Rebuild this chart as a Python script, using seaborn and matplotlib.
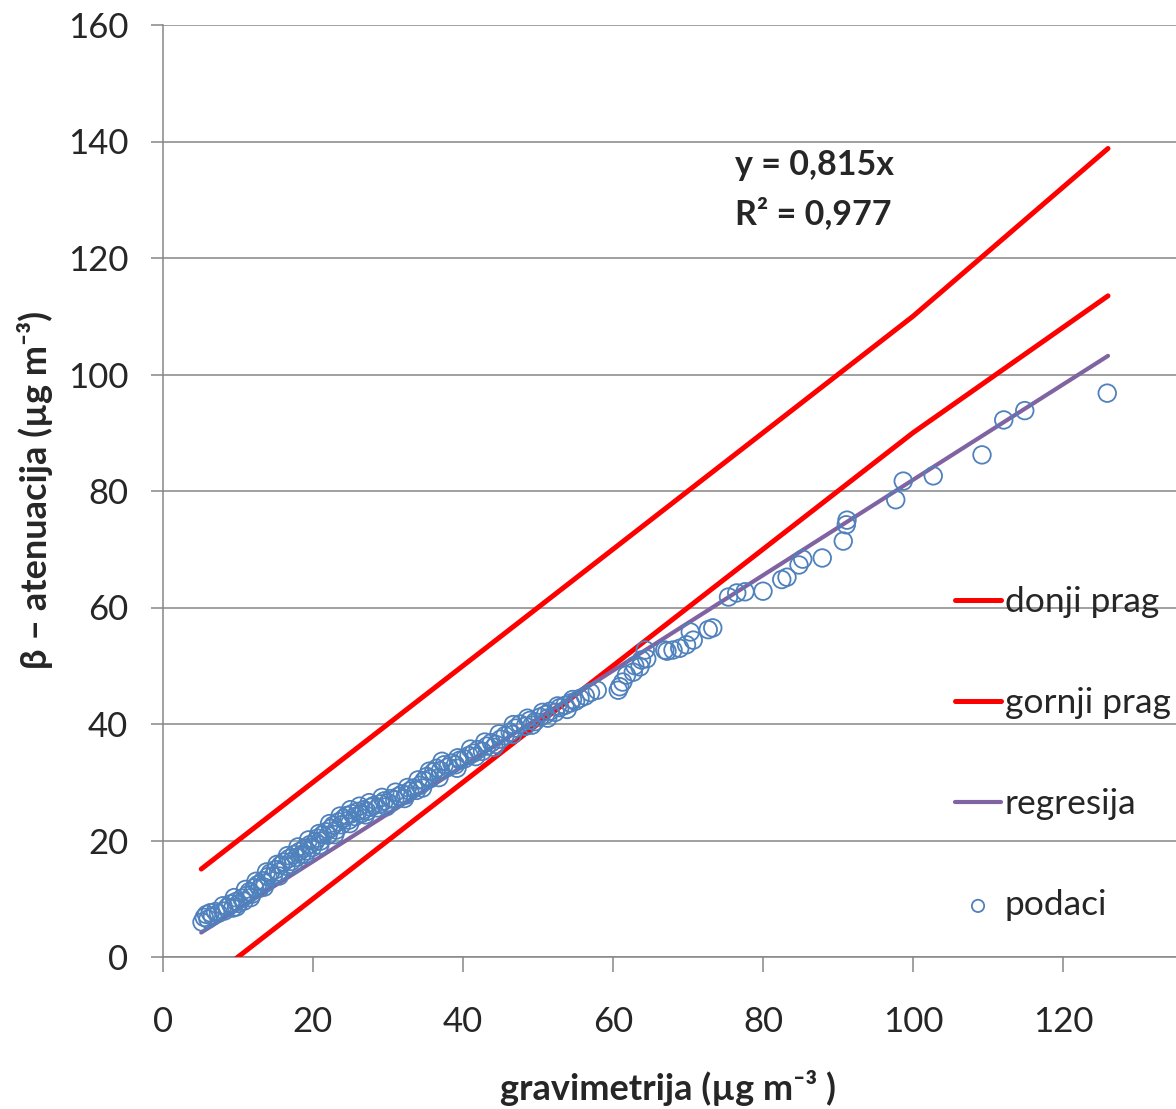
import numpy as np
import pandas as pd
import matplotlib
matplotlib.use("Agg")
import matplotlib.pyplot as plt
import seaborn as sns

# ---------------- data ----------------
grav_x = [5.2, 5.5, 5.8, 6.0, 6.3, 6.6, 7.0, 7.4, 8.2, 8.6, 9.0, 9.3, 9.7, 10.1, 10.5, 10.8,
          11.2, 11.5, 11.9, 12.2, 12.6, 12.9, 13.3, 13.6, 14.0, 14.3, 14.7, 15.0, 15.4, 15.7,
          16.1, 16.4, 16.8, 17.1, 17.5, 17.8, 18.2, 18.5, 18.9, 19.2, 19.6, 19.9, 20.3, 20.6,
          21.0, 21.3, 21.7, 22.0, 22.4, 22.7, 23.1, 23.4, 23.8, 24.1, 24.5, 24.8, 25.2, 25.6,
          26.0, 26.4, 26.8, 27.2, 27.7, 28.1, 28.6, 29.0, 29.5, 30.0, 30.4, 30.9, 31.4, 31.9,
          32.4, 32.9, 33.4, 33.8, 34.3, 34.8, 35.2, 35.6, 36.1, 36.5, 37.0, 37.5, 38.0, 38.5,
          39.0, 39.6, 40.2, 40.8, 41.4, 42.0, 42.6, 43.2, 43.8, 44.4, 45.0, 45.6, 46.3, 47.0,
          47.6, 48.3, 48.9, 49.6, 50.3, 51.0, 51.6, 52.3, 52.9, 53.6, 54.3, 55.0, 55.6, 56.3,
          57.0, 57.9,
          8.0, 9.5, 11.0, 12.4, 13.8, 15.2, 16.6, 18.0, 19.4, 20.8, 22.2, 23.6, 25.0, 26.2,
          27.5, 29.2, 31.0, 32.6, 34.0, 35.5, 37.2, 39.3, 41.0, 42.9, 44.8, 46.7, 48.6, 50.6,
          52.6, 54.6,
          9.8, 11.7, 13.5, 15.5, 17.3, 19.0, 20.9, 22.9, 24.9, 27.0, 29.8, 32.2, 34.6, 36.8,
          39.2, 41.7, 44.1, 46.6, 49.2, 51.3, 53.9,
          60.7, 60.9, 61.3, 61.8, 62.7, 62.9, 63.6, 63.8, 64.5, 64.3, 66.9, 67.2, 68.0, 68.9,
          69.8, 70.3, 70.7, 72.7, 73.3, 75.4, 76.5, 77.6, 80.0, 82.5, 83.2, 84.8, 85.3, 87.9,
          90.7, 91.1, 91.2, 97.7, 98.7, 102.7, 109.2, 112.1, 114.9, 125.9]
beta_y = [6.0, 6.8, 7.3, 6.5, 7.6, 7.0, 7.8, 7.5, 7.9, 8.6, 9.1, 8.4, 9.5, 9.2, 10.1, 9.6,
          10.6, 11.2, 10.8, 11.9, 12.4, 11.8, 13.1, 12.7, 13.8, 14.4, 13.9, 15.0, 14.6, 15.8,
          16.3, 15.6, 16.9, 16.4, 17.6, 17.1, 18.1, 17.6, 18.7, 18.2, 19.3, 18.8, 19.8, 20.4,
          19.9, 21.0, 21.5, 20.9, 22.1, 22.6, 21.8, 23.2, 22.7, 23.8, 24.3, 23.5, 24.6, 24.1,
          25.0, 24.6, 25.3, 25.0, 25.7, 26.0, 25.6, 26.3, 26.8, 26.5, 27.2, 27.0, 27.6, 28.0,
          27.8, 28.5, 29.0, 28.6, 29.5, 30.3, 31.0, 30.6, 31.8, 32.4, 32.0, 33.0, 32.6, 33.3,
          33.0, 33.8, 34.0, 34.6, 35.0, 35.6, 35.3, 36.2, 36.8, 36.5, 37.4, 38.0, 38.6, 39.3,
          40.0, 39.6, 40.6, 40.4, 41.2, 41.6, 42.2, 42.0, 42.8, 43.2, 43.6, 43.9, 44.4, 44.8,
          45.4, 45.8,
          8.8, 10.2, 11.6, 13.0, 14.6, 15.9, 17.4, 18.9, 20.1, 21.2, 22.9, 24.2, 25.3, 25.9,
          26.5, 27.4, 28.3, 29.1, 30.4, 31.9, 33.6, 34.2, 35.7, 36.9, 38.3, 39.9, 41.0, 42.0,
          43.1, 44.2,
          8.6, 10.2, 12.0, 13.9, 15.8, 17.6, 19.2, 21.0, 22.9, 24.4, 25.8, 27.2, 29.0, 30.8,
          32.4, 34.4, 36.0, 38.2, 39.8, 41.0, 42.5,
          45.8, 46.4, 47.2, 48.4, 48.9, 50.0, 49.8, 51.0, 51.2, 52.7, 52.7, 52.5, 52.7, 53.0,
          53.6, 55.8, 54.4, 56.2, 56.5, 61.8, 62.5, 62.7, 62.8, 64.8, 65.2, 67.3, 68.3, 68.5,
          71.4, 74.2, 75.0, 78.5, 81.7, 82.6, 86.2, 92.2, 93.8, 96.8]

upper_x = [5.1, 100.0, 126.0]
upper_y = [15.1, 110.0, 138.8]
lower_x = [5.1, 100.0, 126.0]
lower_y = [-4.9, 90.0, 113.5]
reg_x = [5.1, 126.0]
reg_y = [4.2, 103.2]

x_ticks = [0, 20, 40, 60, 80, 100, 120]
y_ticks = [0, 20, 40, 60, 80, 100, 120, 140, 160]

eq_text = "y = 0,815x"
r2_text = "R² = 0,977"
x_label = "gravimetrija (µg m⁻³ )"
y_label = "β – atenuacija (µg m⁻³)"

# ---------------- style ----------------
sns.set_theme(style="white")
plt.rcParams['font.family'] = ['Lato', 'DejaVu Sans']

RED = "#FF0000"
PURPLE = "#8064A2"
BLUE = "#4F81BD"
GRAY = "#868686"

fig = plt.figure(figsize=(11.76, 11.09), dpi=100)
ax = fig.add_axes([163/1176, 1 - 957/1109, 1013/1176, 932/1109])

pts = pd.DataFrame({"x": grav_x, "y": beta_y})
up = pd.DataFrame({"x": upper_x, "y": upper_y})
lo = pd.DataFrame({"x": lower_x, "y": lower_y})
rg = pd.DataFrame({"x": reg_x, "y": reg_y})

sns.lineplot(data=lo, x="x", y="y", ax=ax, color=RED, lw=3.6, estimator=None,
             sort=False, label="donji prag", zorder=3)
sns.lineplot(data=up, x="x", y="y", ax=ax, color=RED, lw=3.6, estimator=None,
             sort=False, label="gornji prag", zorder=3)
sns.lineplot(data=rg, x="x", y="y", ax=ax, color=PURPLE, lw=3.0, estimator=None,
             sort=False, label="regresija", zorder=3)
sns.scatterplot(data=pts, x="x", y="y", ax=ax, s=160, facecolor="none",
                edgecolor=BLUE, linewidth=1.3, label="podaci", zorder=4)

ax.set_xlim(0, 1013/7.5)
ax.set_ylim(0, 160)
ax.set_xticks(x_ticks)
ax.set_yticks(y_ticks)
ax.grid(axis="y", color=GRAY, lw=1.1)
ax.grid(axis="x", visible=False)
ax.set_axisbelow(True)
for s in ["top", "right"]:
    ax.spines[s].set_visible(False)
for s in ["left", "bottom"]:
    ax.spines[s].set_color(GRAY)
    ax.spines[s].set_linewidth(1.1)
ax.tick_params(axis="x", direction="out", length=11, width=1.1, color=GRAY,
               labelsize=25, pad=24, bottom=True)
ax.tick_params(axis="y", direction="out", length=9, width=1.1, color=GRAY,
               labelsize=25, pad=16, left=True)

ax.set_xlabel(x_label, fontsize=26, fontweight="bold", va="center")
ax.set_ylabel(y_label, fontsize=26, fontweight="bold", va="center")
ax.xaxis.set_label_coords((668 - 163) / 1013, (957 - 1088) / 932)
ax.yaxis.set_label_coords((35 - 163) / 1013, (957 - 490) / 932)

ax.text(76.3, 136.0, eq_text, fontsize=24.5, fontweight="bold", ha="left", va="center")
ax.text(76.3, 127.7, r2_text, fontsize=24.5, fontweight="bold", ha="left", va="center")

leg = ax.legend(loc="upper left", bbox_to_anchor=((955 - 163) / 1013, (957 - 586) / 932),
                frameon=False, fontsize=25.5, borderpad=0, borderaxespad=0,
                handlelength=1.3, handletextpad=0.1, labelspacing=1.95, markerscale=0.7)

fig.savefig("out.png", dpi=100)
